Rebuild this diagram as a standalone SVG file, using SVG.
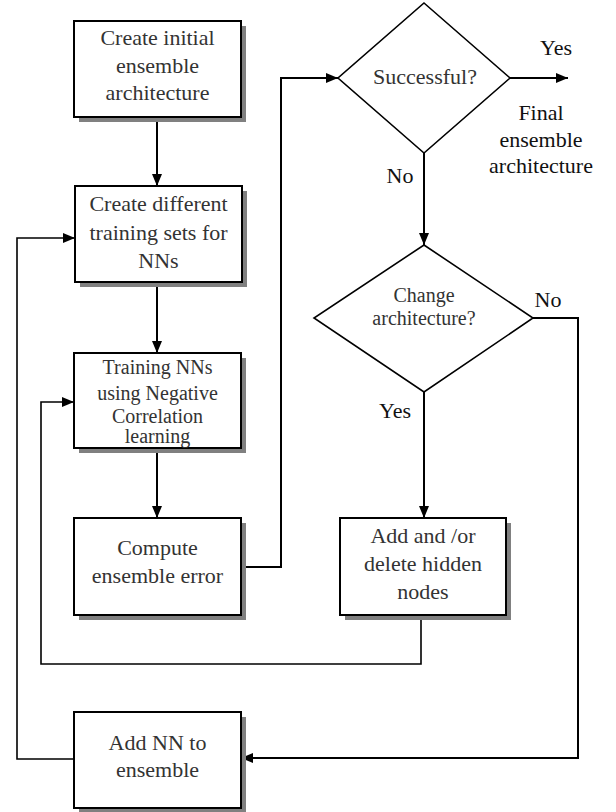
<svg xmlns="http://www.w3.org/2000/svg" width="616" height="812" viewBox="0 0 616 812">
<style>
.box{fill:#fff;stroke:#000;stroke-width:2}
.shadow{fill:#808080}
.dia{fill:#fff;stroke:#000;stroke-width:1.6}
.t{font-family:"Liberation Serif","Times New Roman",serif;font-size:22px;fill:#333;text-anchor:middle}
.s{font-size:20px}
.lbl{font-family:"Liberation Serif","Times New Roman",serif;font-size:22px;fill:#111;text-anchor:middle}
.c{fill:none;stroke:#000;stroke-width:2}
.c1{fill:none;stroke:#000;stroke-width:1.6}
</style>
<defs>
<marker id="ah" viewBox="0 0 12 10" refX="12" refY="5" markerWidth="12" markerHeight="10" markerUnits="userSpaceOnUse" orient="auto">
<path d="M0,0 L12,5 L0,10 Z" fill="#000"/>
</marker>
</defs>
<g id="connectors">
<line class="c" x1="157" y1="117" x2="157" y2="186" marker-end="url(#ah)"/>
<line class="c" x1="157" y1="282" x2="157" y2="353" marker-end="url(#ah)"/>
<line class="c" x1="157" y1="448" x2="157" y2="518" marker-end="url(#ah)"/>
<polyline class="c" points="240,567 281,567 281,78 338,78" marker-end="url(#ah)"/>
<line class="c" x1="510" y1="78" x2="568" y2="78" marker-end="url(#ah)"/>
<line class="c" x1="424" y1="153" x2="424" y2="245" marker-end="url(#ah)"/>
<line class="c" x1="424" y1="392" x2="424" y2="518" marker-end="url(#ah)"/>
<polyline class="c" points="533,318 578,318 578,758 241,758" marker-end="url(#ah)"/>
<polyline class="c1" points="421,615 421,664 41,664 41,402 74,402" marker-end="url(#ah)"/>
<polyline class="c1" points="74,759 17,759 17,238 75,238" marker-end="url(#ah)"/>
</g>
<g id="n1">
<rect class="shadow" x="79" y="26" width="167" height="96"/>
<rect class="box" x="74" y="21" width="167" height="96"/>
<text class="t" x="157.5" y="45">Create initial</text>
<text class="t" x="157.5" y="73">ensemble</text>
<text class="t" x="157.5" y="100">architecture</text>
</g>
<g id="n2">
<rect class="shadow" x="80" y="191" width="167" height="96"/>
<rect class="box" x="75" y="186" width="167" height="96"/>
<text class="t" x="158.5" y="211">Create different</text>
<text class="t" x="158.5" y="240">training sets for</text>
<text class="t" x="158.5" y="268">NNs</text>
</g>
<g id="n3">
<rect class="shadow" x="79" y="358" width="167" height="95"/>
<rect class="box" x="74" y="353" width="167" height="95"/>
<text class="t s" x="157.5" y="374">Training NNs</text>
<text class="t s" x="157.5" y="400">using Negative</text>
<text class="t s" x="157.5" y="423">Correlation</text>
<text class="t s" x="157.5" y="443">learning</text>
</g>
<g id="n4">
<rect class="shadow" x="79" y="523" width="167" height="97"/>
<rect class="box" x="74" y="518" width="167" height="97"/>
<text class="t" x="157.5" y="555">Compute</text>
<text class="t" x="157.5" y="583">ensemble error</text>
</g>
<g id="d1">
<polygon class="dia" points="424,3 510,78 424,153 338,78"/>
<text class="t" x="425" y="84">Successful?</text>
</g>
<g id="final">
<text class="lbl" x="556" y="55">Yes</text>
<text class="lbl" x="541" y="120">Final</text>
<text class="lbl" x="541" y="147">ensemble</text>
<text class="lbl" x="541" y="173">architecture</text>
<text class="lbl" x="400" y="183">No</text>
</g>
<g id="d2">
<polygon class="dia" points="424,245 533,318 424,392 314,318"/>
<text class="t s" x="424" y="302">Change</text>
<text class="t s" x="424" y="325">architecture?</text>
<text class="lbl" x="548" y="307">No</text>
<text class="lbl" x="395" y="418">Yes</text>
</g>
<g id="n5">
<rect class="shadow" x="345" y="523" width="166" height="97"/>
<rect class="box" x="340" y="518" width="166" height="97"/>
<text class="t" x="423" y="543">Add and /or</text>
<text class="t" x="423" y="571">delete hidden</text>
<text class="t" x="423" y="599">nodes</text>
</g>
<g id="n6">
<rect class="shadow" x="79" y="717" width="167" height="96"/>
<rect class="box" x="74" y="712" width="167" height="96"/>
<text class="t" x="157.5" y="750">Add NN to</text>
<text class="t" x="157.5" y="777">ensemble</text>
</g>
</svg>
